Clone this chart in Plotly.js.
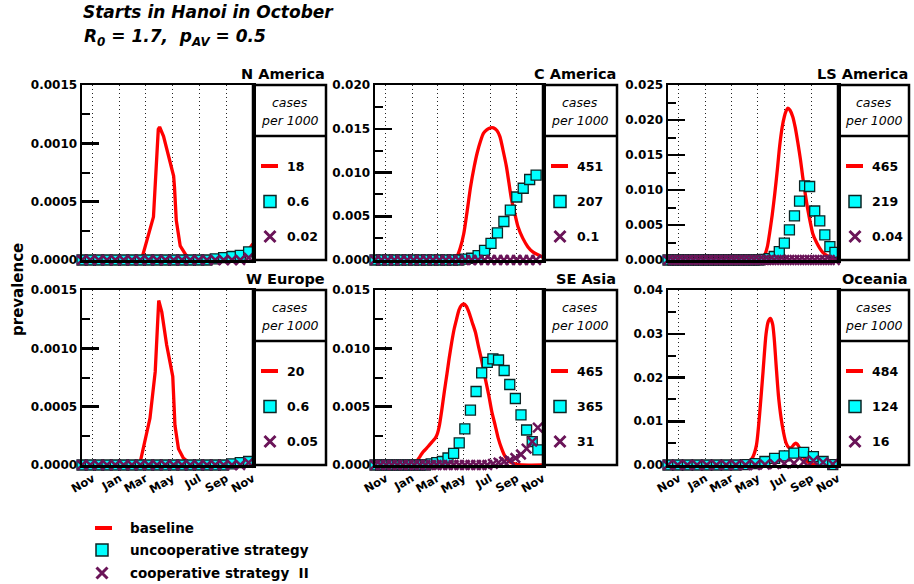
<!DOCTYPE html>
<html><head><meta charset="utf-8">
<script src="https://cdn.plot.ly/plotly-3.0.1.min.js"></script>
<style>html,body{margin:0;padding:0;background:#fff}#chart{width:914px;height:584px}</style>
</head><body><div id="chart"></div><script>
// ---------- data ----------
const monthTickDays = [0, 61, 120, 181, 242, 304, 365];      // days after 1 Nov
const monthTickText = ['Nov', 'Jan', 'Mar', 'May', 'Jul', 'Sep', 'Nov'];
const regionNames = ['N America', 'C America', 'LS America', 'W Europe', 'SE Asia', 'Oceania'];
const casesBaseline = ['18', '451', '465', '20', '465', '484'];
const casesUncoop = ['0.6', '207', '219', '0.6', '365', '124'];
const casesCoop = ['0.02', '0.1', '0.04', '0.05', '31', '16'];
const yMax = [0.0015, 0.020, 0.025, 0.0015, 0.015, 0.04];
const yStep = [0.0005, 0.005, 0.005, 0.0005, 0.005, 0.01];
const yFormat = ['.4f', '.3f', '.3f', '.4f', '.3f', '.2f'];
const seriesNames = ['baseline', 'uncooperative strategy', 'cooperative strategy\u00a0\u00a0II'];

// baseline (red) curves: day after 1 Nov, prevalence
const naBaseDays = [-25, 105, 112, 126, 138, 149, 152, 161, 184, 186, 190, 199, 214, 232, 320, 345, 365];
const naBaseVals = [0, 0, 0.00002, 0.00022, 0.00037, 0.00112, 0.00114, 0.00106, 0.00072, 0.00062, 0.00034, 0.00012, 0.00003, 0, 0.00001, 0.00004, 0.00014];
const caBaseDays = [-25, 150, 158, 166, 173, 181, 189, 197, 205, 212, 220, 227, 235, 243, 250, 258, 265, 272, 280, 286, 292, 300, 307, 318, 330, 342, 353, 365];
const caBaseVals = [0, 0, 0.0001, 0.0005, 0.0014, 0.0030, 0.0056, 0.0084, 0.0106, 0.0122, 0.0136, 0.0145, 0.0149, 0.0151, 0.0151, 0.0148, 0.0141, 0.0126, 0.0107, 0.0088, 0.0069, 0.0052, 0.0038, 0.0025, 0.0015, 0.0009, 0.0006, 0.0003];
const lsBaseDays = [-25, 185, 192, 197, 203, 208, 214, 220, 226, 231, 237, 242, 246, 250, 255, 261, 267, 273, 279, 284, 290, 296, 302, 307, 315, 323, 330, 338, 353, 365];
const lsBaseVals = [0, 0, 0.0002, 0.0007, 0.0019, 0.0038, 0.0064, 0.0095, 0.0130, 0.0162, 0.0190, 0.0205, 0.0213, 0.0217, 0.0214, 0.0205, 0.0189, 0.0167, 0.0143, 0.0119, 0.0094, 0.0071, 0.0052, 0.0038, 0.0026, 0.0017, 0.0011, 0.0007, 0.0002, 0.0001];
const weBaseDays = [-25, 102, 108, 119, 130, 142, 149, 150, 157, 168, 182, 187, 195, 206, 222, 240, 365];
const weBaseVals = [0, 0, 0.00003, 0.00023, 0.00040, 0.00080, 0.00138, 0.00141, 0.00131, 0.00103, 0.00076, 0.00034, 0.00014, 0.00006, 0.00001, 0, 0.00002];
const seBaseDays = [-25, 55, 63, 71, 79, 86, 94, 101, 108, 115, 120, 124, 130, 136, 142, 147, 153, 159, 165, 170, 176, 181, 187, 193, 200, 208, 215, 223, 231, 239, 246, 254, 261, 269, 276, 284, 292, 300, 315, 365];
const seBaseVals = [0, 0, 0.0001, 0.0003, 0.0007, 0.0011, 0.0014, 0.0017, 0.0020, 0.0023, 0.0027, 0.0033, 0.0047, 0.0063, 0.0078, 0.0091, 0.0105, 0.0117, 0.0126, 0.0133, 0.0137, 0.0138, 0.0136, 0.0131, 0.0123, 0.0114, 0.0102, 0.0089, 0.0074, 0.0060, 0.0046, 0.0034, 0.0023, 0.0014, 0.0008, 0.0004, 0.0002, 0.0001, 0, 0];
const ocBaseDays = [-25, 150, 162, 170, 178, 185, 193, 200, 205, 210, 215, 219, 223, 229, 237, 246, 252, 258, 264, 268, 272, 277, 283, 288, 300, 315, 365];
const ocBaseVals = [0, 0, 0.0008, 0.0019, 0.0046, 0.0114, 0.0213, 0.0300, 0.0328, 0.0335, 0.0322, 0.0285, 0.0229, 0.0152, 0.0091, 0.0050, 0.0040, 0.0040, 0.0047, 0.0050, 0.0047, 0.0038, 0.0024, 0.0015, 0.0004, 0, 0];

// strategy series (markers), sampled evenly from the first to the last sample day
const firstSampleDay = -25;
const naLastDay = 355, caLastDay = 349, lsLastDay = 358, weLastDay = 355, seLastDay = 353, ocLastDay = 353;
const naUncoop = [0, 0, 0, 0, 0, 0, 0, 0, 0, 0, 0, 0, 0, 0, 0, 0, 0.00001, 0.00002, 0.00003, 0.00004, 0.00007];
const naCoop   = [0, 0, 0, 0, 0, 0, 0, 0, 0, 0, 0, 0, 0, 0, 0, 0, 0, 0, 0, 0, 0.00002];
const caUncoop = [0, 0, 0, 0, 0, 0, 0, 0, 0, 0, 0, 0, 0, 0, 0.0001, 0.0002, 0.0005, 0.0011, 0.0019, 0.0031, 0.0044, 0.0057, 0.0072, 0.0082, 0.0092, 0.0097];
const caCoop   = [0, 0, 0, 0, 0, 0, 0, 0, 0, 0, 0, 0, 0, 0, 0, 0, 0, 0, 0, 0, 0, 0, 0, 0, 0, 0];
const lsUncoop = [0, 0, 0, 0, 0, 0, 0, 0, 0, 0, 0, 0, 0, 0, 0, 0, 0, 0, 0, 0.0001, 0.0002, 0.0005, 0.0012, 0.0024, 0.0043, 0.0063, 0.0084, 0.0106, 0.0105, 0.0070, 0.0056, 0.0036, 0.0019, 0.0011];
const lsCoop   = [0, 0, 0, 0, 0, 0, 0, 0, 0, 0, 0, 0, 0, 0, 0, 0, 0, 0, 0, 0, 0, 0, 0, 0, 0, 0, 0, 0, 0, 0, 0, 0, 0, 0];
const weUncoop = [0, 0, 0, 0, 0, 0, 0, 0, 0, 0, 0, 0, 0, 0, 0, 0, 0, 0, 0.00001, 0.00002, 0.00003];
const weCoop   = [0, 0, 0, 0, 0, 0, 0, 0, 0, 0, 0, 0, 0, 0, 0, 0, 0, 0, 0, 0, 0.00002];
const seUncoop = [0, 0, 0, 0, 0, 0, 0, 0, 0, 0, 0.0001, 0.0002, 0.0003, 0.0006, 0.0010, 0.0019, 0.0031, 0.0047, 0.0063, 0.0079, 0.0088, 0.0091, 0.0090, 0.0081, 0.0069, 0.0057, 0.0043, 0.0030, 0.0020, 0.0013];
const seCoop   = [0, 0, 0, 0, 0, 0, 0, 0, 0, 0, 0, 0, 0, 0, 0, 0, 0, 0, 0, 0, 0, 0.0001, 0.0002, 0.0003, 0.0004, 0.0006, 0.0009, 0.0014, 0.0020, 0.0032];
const ocUncoop = [0, 0, 0, 0, 0, 0, 0, 0, 0.0001, 0.0003, 0.0008, 0.0015, 0.0021, 0.0027, 0.0029, 0.0019, 0.0008, 0.0001];
const ocCoop   = [0, 0, 0, 0, 0, 0, 0, 0, 0, 0, 0.0001, 0.0002, 0.0003, 0.0004, 0.0007, 0.0010, 0.0006, 0.0002];

// ---------- styling / layout ----------
const FONT = 'DejaVu Sans, Liberation Sans, Arial, sans-serif';
const RED = '#ff0000', CYAN = '#00ffff', SQEDGE = '#0d2424', PURPLE = '#6a1458';
const W = 914, H = 584;
const colLeft = [82, 375, 668], colRight = [253, 543, 838], legRight = [326, 617, 909];
const rowTop = [85, 290], rowBottom = [260, 465];
const headerH = 51;

const panels = [
  {baseDays: naBaseDays, baseVals: naBaseVals, shape: 'linear', last: naLastDay, uncoop: naUncoop, coop: naCoop},
  {baseDays: caBaseDays, baseVals: caBaseVals, shape: 'spline', last: caLastDay, uncoop: caUncoop, coop: caCoop},
  {baseDays: lsBaseDays, baseVals: lsBaseVals, shape: 'spline', last: lsLastDay, uncoop: lsUncoop, coop: lsCoop},
  {baseDays: weBaseDays, baseVals: weBaseVals, shape: 'linear', last: weLastDay, uncoop: weUncoop, coop: weCoop},
  {baseDays: seBaseDays, baseVals: seBaseVals, shape: 'spline', last: seLastDay, uncoop: seUncoop, coop: seCoop},
  {baseDays: ocBaseDays, baseVals: ocBaseVals, shape: 'spline', last: ocLastDay, uncoop: ocUncoop, coop: ocCoop}
];

function sampleDays(last, n) {
  const out = [];
  for (let i = 0; i < n; i++) out.push(firstSampleDay + i * (last - firstSampleDay) / (n - 1));
  return out;
}

const traces = [];
const layout = {
  width: W, height: H,
  margin: {l: 0, r: 0, t: 0, b: 0},
  paper_bgcolor: '#ffffff', plot_bgcolor: 'rgba(0,0,0,0)',
  showlegend: false,
  font: {family: FONT, color: '#000'},
  shapes: [], annotations: []
};

panels.forEach((p, k) => {
  const col = k % 3, row = Math.floor(k / 3);
  const ax = k === 0 ? '' : String(k + 1);
  const xa = 'x' + ax, ya = 'y' + ax;
  const mDays = sampleDays(p.last, p.uncoop.length);
  traces.push({type: 'scatter', mode: 'lines', x: p.baseDays, y: p.baseVals, xaxis: xa, yaxis: ya,
    line: {color: RED, width: 3.3, shape: p.shape, smoothing: 0.7}, hoverinfo: 'skip'});
  traces.push({type: 'scatter', mode: 'markers', x: mDays, y: p.uncoop, xaxis: xa, yaxis: ya, cliponaxis: false,
    marker: {symbol: 'square', size: 10, color: CYAN, line: {color: SQEDGE, width: 1.3}}, hoverinfo: 'skip'});
  traces.push({type: 'scatter', mode: 'markers', x: mDays, y: p.coop, xaxis: xa, yaxis: ya, cliponaxis: false,
    marker: {symbol: 'x-thin-open', size: 9.5, color: PURPLE, line: {color: PURPLE, width: 2.5}}, hoverinfo: 'skip'});

  layout['xaxis' + ax] = {
    domain: [colLeft[col] / W, colRight[col] / W], anchor: ya,
    range: [-25, 365], tickmode: 'array', tickvals: monthTickDays, ticktext: monthTickText,
    showgrid: true, gridcolor: '#222', gridwidth: 1, griddash: '1px,3px',
    ticks: '', showline: true, mirror: true, linewidth: 2.5, linecolor: '#000', zeroline: false,
    showticklabels: row === 1, tickangle: -30,
    tickfont: {family: FONT, size: 11.5, weight: 'bold', color: '#000'},
    automargin: false, fixedrange: true
  };
  layout['yaxis' + ax] = {
    domain: [1 - rowBottom[row] / H, 1 - rowTop[row] / H], anchor: xa,
    range: [0, yMax[k]], tick0: 0, dtick: yStep[k], tickformat: yFormat[k],
    ticks: 'inside', ticklen: 17, tickwidth: 2.5, tickcolor: '#000',
    minor: {ticks: 'inside', ticklen: 8, tickwidth: 2, tickcolor: '#000', dtick: yStep[k] / 2, showgrid: false},
    showgrid: false, showline: true, mirror: true, linewidth: 2.5, linecolor: '#000', zeroline: false,
    tickfont: {family: FONT, size: 12, weight: 'bold', color: '#000'},
    automargin: false, fixedrange: true
  };
});

// overlay axis in pixel units for the decorations (legend boxes, titles)
layout.xaxis7 = {domain: [0, 1], range: [0, W], anchor: 'y7', visible: false, fixedrange: true};
layout.yaxis7 = {domain: [0, 1], range: [H, 0], anchor: 'x7', visible: false, fixedrange: true};

function ann(x, y, text, o) {
  o = o || {};
  return {xref: 'x7', yref: 'y7', x: x, y: y, text: text, showarrow: false,
    xanchor: o.xanchor || 'left', yanchor: o.yanchor || 'middle', textangle: o.angle || 0,
    font: {family: FONT, size: o.size || 12, color: '#000', weight: o.weight || 'bold', style: o.style || 'normal'}};
}

const legLineX = [], legLineY = [], legSqX = [], legSqY = [], legXX = [], legXY = [];
panels.forEach((p, k) => {
  const col = k % 3, row = Math.floor(k / 3);
  const L = colRight[col], R = legRight[col], T = rowTop[row], B = rowBottom[row];
  layout.shapes.push({type: 'rect', xref: 'x7', yref: 'y7', x0: L, x1: R, y0: T, y1: B,
    line: {color: '#000', width: 2.5}, fillcolor: 'rgba(0,0,0,0)', layer: 'above'});
  layout.shapes.push({type: 'line', xref: 'x7', yref: 'y7', x0: L, x1: R, y0: T + headerH, y1: T + headerH,
    line: {color: '#000', width: 2.5}, layer: 'above'});
  layout.annotations.push(ann((L + R) / 2, T + 17, 'cases', {xanchor: 'center', size: 12.5, weight: 'normal', style: 'italic'}));
  layout.annotations.push(ann((L + R) / 2, T + 35, 'per 1000', {xanchor: 'center', size: 12.5, weight: 'normal', style: 'italic'}));
  const ys = [T + 81, T + 116.5, T + 151.5];
  legLineX.push(L + 8, L + 25, null); legLineY.push(ys[0], ys[0], null);
  legSqX.push(L + 17); legSqY.push(ys[1]);
  legXX.push(L + 17); legXY.push(ys[2]);
  layout.annotations.push(ann(L + 32, ys[0], casesBaseline[k], {size: 12.5}));
  layout.annotations.push(ann(L + 32, ys[1], casesUncoop[k], {size: 12.5}));
  layout.annotations.push(ann(L + 32, ys[2], casesCoop[k], {size: 12.5}));
  layout.annotations.push(ann(R + 1, T - 11, regionNames[k], {xanchor: 'right', size: 14.5}));
});

// bottom legend
const keyY = [528, 550, 573];
legLineX.push(95, 112, null); legLineY.push(keyY[0], keyY[0], null);
legSqX.push(102); legSqY.push(keyY[1]);
legXX.push(102); legXY.push(keyY[2]);
seriesNames.forEach((s, i) => layout.annotations.push(ann(128, keyY[i], s, {size: 13.5})));

traces.push({type: 'scatter', mode: 'lines', x: legLineX, y: legLineY, xaxis: 'x7', yaxis: 'y7', cliponaxis: false,
  line: {color: RED, width: 4}, hoverinfo: 'skip'});
traces.push({type: 'scatter', mode: 'markers', x: legSqX, y: legSqY, xaxis: 'x7', yaxis: 'y7', cliponaxis: false,
  marker: {symbol: 'square', size: 12, color: CYAN, line: {color: SQEDGE, width: 1.5}}, hoverinfo: 'skip'});
traces.push({type: 'scatter', mode: 'markers', x: legXX, y: legXY, xaxis: 'x7', yaxis: 'y7', cliponaxis: false,
  marker: {symbol: 'x-thin-open', size: 11, color: PURPLE, line: {color: PURPLE, width: 3}}, hoverinfo: 'skip'});

// titles
layout.annotations.push(ann(81, 12, 'Starts in Hanoi in October', {size: 17, style: 'italic'}));
layout.annotations.push(ann(82, 37, 'R<sub>0</sub> = 1.7,\u00a0\u00a0p<sub>AV</sub> = 0.5', {size: 17, style: 'italic'}));
layout.annotations.push(ann(18, 290, 'prevalence', {xanchor: 'center', size: 15, angle: -90}));

Plotly.newPlot('chart', traces, layout, {staticPlot: true, displayModeBar: false});
</script></body></html>
